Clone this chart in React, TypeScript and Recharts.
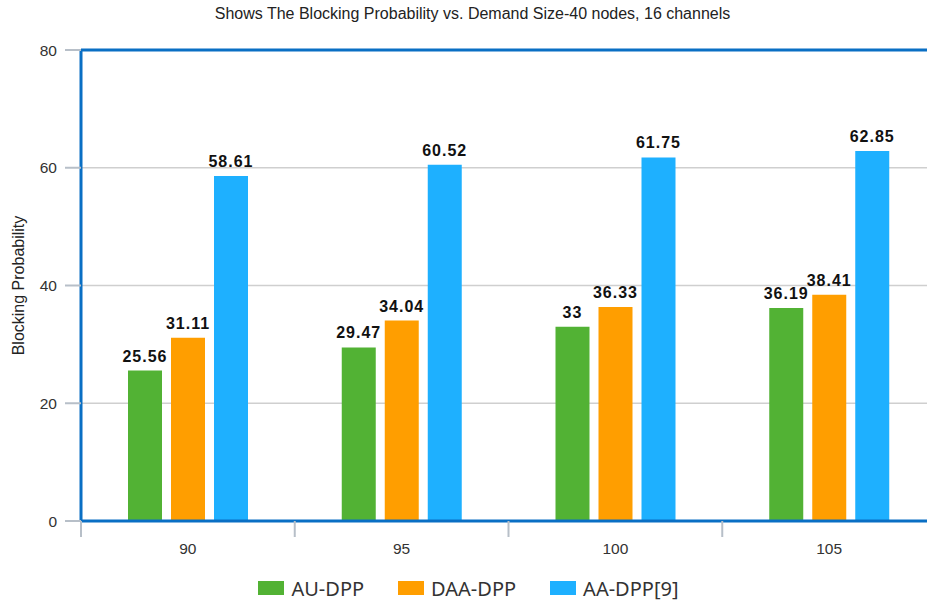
import React from "react";
import { BarChart, Bar, XAxis, YAxis, CartesianGrid, LabelList, Legend, ReferenceLine } from "recharts";

const categories = ["90", "95", "100", "105"];
const auDpp = [25.56, 29.47, 33, 36.19];
const daaDpp = [31.11, 34.04, 36.33, 38.41];
const aaDpp9 = [58.61, 60.52, 61.75, 62.85];
const yTicks = [0, 20, 40, 60, 80];

const seriesNames = ["AU-DPP", "DAA-DPP", "AA-DPP[9]"];
const seriesKeys = ["au", "daa", "aa"];
const seriesColors = ["#52b234", "#ff9e00", "#1eb0ff"];

const data = categories.map((c, i) => ({ cat: c, au: auDpp[i], daa: daaDpp[i], aa: aaDpp9[i] }));

const FRAME = "#0a6fc4";
const TICK = "#b7bfc8";

const XTick = (props: any) => {
  const { x, y, payload } = props;
  const half = payload && payload.offset != null ? payload.offset : props.width / (props.visibleTicksCount || 4) / 2;
  return (
    <g>
      <line x1={x - half} x2={x - half} y1={y} y2={y + 16} stroke={TICK} strokeWidth={2} />
      <text x={x} y={y + 27} textAnchor="middle" dominantBaseline="central" fontSize={15.5} fill="#333" fontFamily="Liberation Sans, Arial, sans-serif">
        {payload.value}
      </text>
    </g>
  );
};

const LegendContent = () => (
  <div style={{ display: "flex", justifyContent: "center", alignItems: "center", height: 30, fontFamily: "'Noto Sans', sans-serif", fontSize: 20, color: "#333" }}>
    {seriesNames.map((n, i) => (
      <div key={n} style={{ display: "flex", alignItems: "center", margin: "0 17px" }}>
        <span style={{ display: "inline-block", width: 26, height: 14, background: seriesColors[i], marginRight: 7 }} />
        <span>{n}</span>
      </div>
    ))}
  </div>
);

export default function App() {
  return (
    <div style={{ position: "absolute", left: 0, top: 0, width: 927, height: 603, overflow: "hidden", background: "#fff" }}>
      <div style={{ position: "absolute", left: 0, top: 5, width: 945, textAlign: "center", fontFamily: "Liberation Sans, Arial, sans-serif", fontSize: 16, color: "#222" }}>
        Shows The Blocking Probability vs. Demand Size-40 nodes, 16 channels
      </div>
      <BarChart width={960} height={603} data={data} margin={{ top: 50, right: 24, bottom: 0, left: 1 }} barSize={34} barGap={9}>
        <CartesianGrid vertical={false} stroke="#cfcfcf" strokeWidth={1.5} />
        <XAxis dataKey="cat" height={52} tickSize={0} tickMargin={0} tickLine={false} axisLine={{ stroke: FRAME, strokeWidth: 3 }} tick={<XTick />} interval={0} />
        <YAxis
          width={80}
          domain={[0, 80]}
          ticks={yTicks}
          tickSize={16}
          tickMargin={8}
          tickLine={{ stroke: TICK, strokeWidth: 2 }}
          axisLine={{ stroke: FRAME, strokeWidth: 3 }}
          tick={{ fontSize: 15.5, fill: "#333", fontFamily: "Liberation Sans, Arial, sans-serif" }}
          label={{ value: "Blocking Probability", angle: -90, position: "insideLeft", offset: 17, style: { textAnchor: "middle", fontSize: 16, fill: "#222", fontFamily: "Liberation Sans, Arial, sans-serif" } }}
        />
        <ReferenceLine y={80} stroke={FRAME} strokeWidth={3} />
        <Legend verticalAlign="bottom" content={<LegendContent />} />
        {seriesKeys.map((k, i) => (
          <Bar key={k} dataKey={k} name={seriesNames[i]} fill={seriesColors[i]} isAnimationActive={false}>
            <LabelList dataKey={k} position="top" offset={9} fontSize={16} fontWeight="bold" fill="#111" fontFamily="Liberation Sans, Arial, sans-serif" style={{ letterSpacing: 1 }} />
          </Bar>
        ))}
      </BarChart>
    </div>
  );
}
